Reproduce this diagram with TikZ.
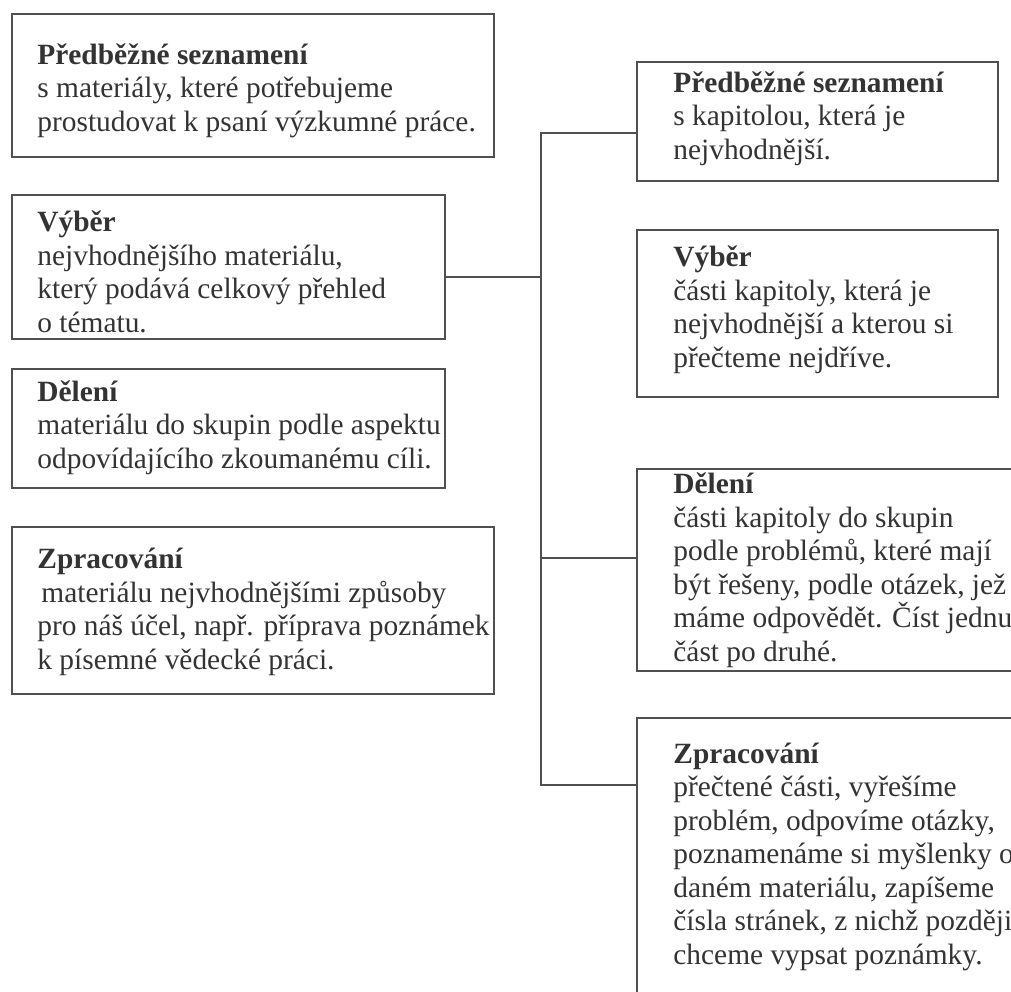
\documentclass[tikz,border=0pt]{standalone}
\usepackage{fontspec}
\setmainfont{Liberation Serif}
\usetikzlibrary{positioning}
\definecolor{linegray}{HTML}{505050}
\definecolor{inkgray}{HTML}{333333}
\tikzset{box/.style={draw=linegray,line width=1pt,inner sep=0pt,anchor=north west},
	 txt/.style={anchor=base west,align=left,inner sep=0pt,text=inkgray,
	   font=\fontsize{14.7}{16.75}\selectfont},
	 link/.style={draw=linegray,line width=1pt}
	 }
\begin{document}
\begin{tikzpicture}[x=0.5pt,y=-0.5pt] % two ways of studying
	\useasboundingbox (0,0) rectangle (1011,991);
	\clip (0,0) rectangle (1011,991);
	% left column (text nodes sit on their last line)
	\node[box,minimum width=241pt,minimum height=71.5pt] (L1) at (11,13) {};
	\node[box,minimum width=216.5pt,minimum height=72pt] (L2) at (11,194) {};
	\node[box,minimum width=216.5pt,minimum height=59.5pt] (L3) at (11,368) {};
	\node[box,minimum width=241pt,minimum height=83.5pt] (L4) at (11,526) {};
	\node[txt] (L1t) at (37,131) {\textbf{Předběžné seznamení}\\s materiály, které potřebujeme\\prostudovat k psaní výzkumné práce.};
	\node[txt] (L2t) at (37,332) {\textbf{Výběr}\\nejvhodnějšího materiálu,\\který podává celkový přehled\\o tématu.};
	\node[txt] (L3t) at (37,468) {\textbf{Dělení}\\materiálu do skupin podle aspektu\\odpovídajícího zkoumanému cíli.};
	\node[txt] (L4t) at (37,669) {\textbf{Zpracování}\\\hspace{2pt}materiálu nejvhodnějšími způsoby\\pro náš účel, např. příprava poznámek\\k písemné vědecké práci.};
	% right column
	\node[box,minimum width=180.5pt,minimum height=59.5pt] (R1) at (636,61) {};
	\node[box,minimum width=180.5pt,minimum height=83.5pt] (R2) at (636,229) {};
	\node[box,minimum width=197pt,minimum height=101pt] (R3) at (636,468) {};
	\node[box,minimum width=197pt,minimum height=146.5pt] (R4) at (636,717) {};
	\node[txt] (R1t) at (673,159) {\textbf{Předběžné seznamení}\\s kapitolou, která je\\nejvhodnější.};
	\node[txt] (R2t) at (673,367) {\textbf{Výběr}\\části kapitoly, která je\\nejvhodnější a kterou si\\přečteme nejdříve.};
	\node[txt] (R3t) at (673,661) {\textbf{Dělení}\\části kapitoly do skupin\\podle problémů, které mají\\být řešeny, podle otázek, jež\\máme odpovědět. Číst jednu\\část po druhé.};
	\node[txt] (R4t) at (673,964) {\textbf{Zpracování}\\přečtené části, vyřešíme\\problém, odpovíme otázky,\\poznamenáme si myšlenky o\\daném materiálu, zapíšeme\\čísla stránek, z nichž později\\chceme vypsat poznámky.};
	% trunk
	\coordinate (j1) at (541,133);
	\coordinate (j2) at (541,277);
	\coordinate (j3) at (541,558);
	\coordinate (j4) at (541,785);
	\draw[link] (j1 -| R1.west) -- (j1) -- (j4) -- (j4 -| R4.west);
	\draw[link] (j2 -| L2.east) -- (j2);
	\draw[link] (j3) -- (j3 -| R3.west);
\end{tikzpicture}
\end{document}
